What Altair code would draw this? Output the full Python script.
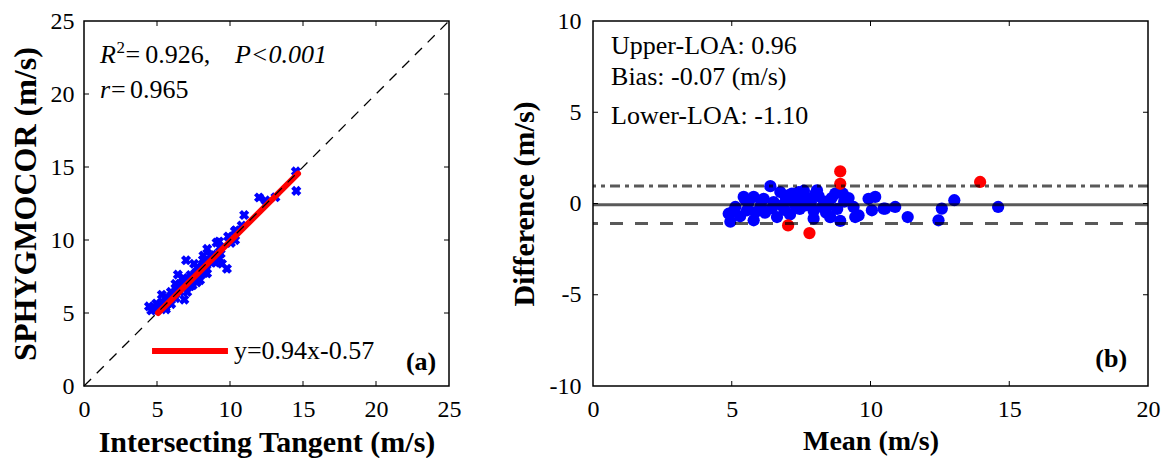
import altair as alt
import pandas as pd

# ---------------- data ----------------
# Panel (a): Intersecting Tangent vs SPHYGMOCOR (blue x markers)
tangent = [4.61, 4.45, 5.04, 4.83, 5.61, 5.59, 5.37, 5.97, 5.62, 5.33, 6.28, 6.00, 6.87, 6.55,
           6.26, 7.07, 6.76, 7.10, 7.28, 7.44, 7.24, 7.45, 7.73, 7.76, 7.60, 7.88, 7.54, 7.75,
           8.43, 8.33, 8.16, 8.40, 8.44, 8.75, 9.00, 8.65, 8.44, 9.10, 9.36, 9.30, 9.08, 9.25,
           10.06, 9.87, 10.35, 10.33, 10.39, 10.80, 10.97, 11.99, 12.43, 13.11, 14.51, 5.95,
           6.73, 6.80, 7.30, 7.88, 8.25, 8.15, 4.95, 6.33, 7.95, 8.18, 9.28, 5.63, 7.25,
           9.79, 9.45, 6.43, 6.99, 14.54]
sphygmocor = [5.17, 5.45, 5.23, 5.28, 5.25, 5.39, 5.74, 5.61, 6.09, 6.25, 6.02, 6.10, 5.92, 6.47,
              7.00, 6.44, 6.86, 6.80, 6.83, 6.90, 7.34, 7.25, 7.10, 7.31, 7.70, 7.63, 8.37, 8.15,
              7.71, 7.93, 8.35, 8.30, 8.54, 8.45, 8.46, 8.95, 9.39, 9.00, 9.06, 9.49, 9.82, 9.90,
              9.80, 10.24, 9.99, 10.61, 10.67, 10.99, 11.71, 12.91, 12.71, 12.93, 14.70, 6.45,
              7.08, 7.40, 7.60, 7.83, 7.75, 8.65, 5.65, 6.58, 7.25, 8.93, 8.73, 5.58, 7.15,
              8.03, 8.37, 7.63, 8.61, 13.36]
fit_x = [5.07, 14.66]
fit_y = [5.00, 14.54]
identity_v = [0, 25]
legend_x = [4.66, 9.86]
legend_y = [2.4, 2.4]
ticks_a = [5, 10, 15, 20]

# Panel (b): Bland-Altman
mean_blue = [4.89, 4.95, 5.13, 5.05, 5.43, 5.49, 5.55, 5.79, 5.85, 5.79, 6.15, 6.05, 6.39, 6.51,
             6.63, 6.75, 6.81, 6.95, 7.05, 7.17, 7.29, 7.35, 7.41, 7.53, 7.65, 7.75, 7.95, 7.95,
             8.07, 8.13, 8.25, 8.35, 8.49, 8.60, 8.73, 8.80, 8.91, 9.05, 9.21, 9.39, 9.45, 9.57,
             9.93, 10.05, 10.17, 10.47, 10.53, 10.89, 11.34, 12.45, 12.57, 13.02, 14.60, 6.20,
             6.90, 7.10, 7.45, 7.85, 8.00, 8.40, 5.30, 6.45, 7.60, 8.55, 9.00, 5.60, 7.20]
diff_blue = [-0.56, -1.00, -0.19, -0.45, 0.36, 0.20, -0.37, 0.36, -0.47, -0.92, 0.26, -0.10, 0.95, 0.08,
             -0.74, 0.63, -0.10, 0.30, 0.45, 0.54, -0.10, 0.20, 0.63, 0.45, -0.10, 0.25, -0.83, -0.40,
             0.72, 0.40, -0.19, 0.10, -0.10, 0.30, 0.54, -0.30, -0.95, 0.10, 0.30, -0.19, -0.74, -0.65,
             0.26, -0.37, 0.36, -0.28, -0.28, -0.19, -0.74, -0.92, -0.28, 0.18, -0.19, -0.50,
             -0.35, -0.60, -0.30, 0.05, 0.50, -0.50, -0.70, -0.25, 0.70, -0.75, 0.55, 0.05, 0.10]
mean_red = [8.91, 8.91, 7.03, 7.80, 13.95]
diff_red = [1.76, 1.08, -1.20, -1.62, 1.18]
loa_values = [0.96, -0.07, -1.10]
ticks_bx = [5, 10, 15]
ticks_by = [-5, 0, 5]

FONT = "Liberation Serif"
W1, H = 365, 365
W2 = 555
TL = 5  # inner tick length (px)


def inner_ticks(xvals, yvals, xs, ys, ax, ay, w, h):
    dx = pd.DataFrame({"v": xvals})
    dy = pd.DataFrame({"v": yvals})
    st = dict(color="black", strokeWidth=1)
    return [
        alt.Chart(dx).mark_rule(**st).encode(x=alt.X("v:Q", scale=xs, axis=ax),
                                             y=alt.value(h), y2=alt.value(h - TL)),
        alt.Chart(dx).mark_rule(**st).encode(x=alt.X("v:Q", scale=xs, axis=ax),
                                             y=alt.value(0), y2=alt.value(TL)),
        alt.Chart(dy).mark_rule(**st).encode(y=alt.Y("v:Q", scale=ys, axis=ay),
                                             x=alt.value(0), x2=alt.value(TL)),
        alt.Chart(dy).mark_rule(**st).encode(y=alt.Y("v:Q", scale=ys, axis=ay),
                                             x=alt.value(w), x2=alt.value(w - TL)),
    ]


def txt(df, x, y, xs, ys, ax, ay, **kw):
    base = dict(font=FONT, fontSize=26, color="black", align="left", baseline="alphabetic")
    base.update(kw)
    return alt.Chart(df).mark_text(**base).encode(
        x=alt.X(f"{x}:Q", scale=xs, axis=ax), y=alt.Y(f"{y}:Q", scale=ys, axis=ay),
        text="label:N")


LEXPR = "'' + datum.value"

# ---------------- panel (a) ----------------
xs1 = alt.Scale(domain=[0, 25], nice=False, zero=False)
ys1 = alt.Scale(domain=[0, 25], nice=False, zero=False)
ax1 = alt.Axis(values=[0, 5, 10, 15, 20, 25], title="Intersecting Tangent (m/s)", labelExpr=LEXPR,
               labelPadding=11, titlePadding=6, titleFontSize=30)
ay1 = alt.Axis(values=[0, 5, 10, 15, 20, 25], title="SPHYGMOCOR (m/s)", labelExpr=LEXPR,
               labelPadding=10, titlePadding=8, titleFontSize=32)

df_sc = pd.DataFrame({"t": tangent, "s": sphygmocor})
scatter = alt.Chart(df_sc).mark_point(shape="cross", angle=45, filled=True, color="#0000ff",
                                      size=105, opacity=1).encode(
    x=alt.X("t:Q", scale=xs1, axis=ax1),
    y=alt.Y("s:Q", scale=ys1, axis=ay1),
)
fit = alt.Chart(pd.DataFrame({"t": fit_x, "s": fit_y})).mark_line(
    color="#ff0000", strokeWidth=6, strokeCap="round").encode(
    x=alt.X("t:Q", scale=xs1, axis=ax1), y=alt.Y("s:Q", scale=ys1, axis=ay1))
ident = alt.Chart(pd.DataFrame({"t": identity_v, "s": identity_v})).mark_line(
    color="black", strokeWidth=1.3, strokeDash=[10, 8]).encode(
    x=alt.X("t:Q", scale=xs1, axis=ax1), y=alt.Y("s:Q", scale=ys1, axis=ay1))
leg_line = alt.Chart(pd.DataFrame({"t": legend_x, "s": legend_y})).mark_line(
    color="#ff0000", strokeWidth=6).encode(
    x=alt.X("t:Q", scale=xs1, axis=ax1), y=alt.Y("s:Q", scale=ys1, axis=ay1))

ann_norm = pd.DataFrame({"t": [2.85, 4.2, 1.85, 3.15, 10.27],
                         "s": [22.13, 22.13, 19.72, 19.72, 1.86],
                         "label": ["=", "0.926,", "=", "0.965", "y=0.94x-0.57"]})
ann_ital = pd.DataFrame({"t": [1.10, 10.34, 1.10], "s": [22.13, 22.13, 19.72],
                         "label": ["R", "P<0.001", "r"]})
ann_sup = pd.DataFrame({"t": [2.22], "s": [22.13], "label": ["2"]})
ann_a = pd.DataFrame({"t": [22.05], "s": [1.12], "label": ["(a)"]})

left = alt.layer(
    scatter, fit, ident, leg_line,
    *inner_ticks(ticks_a, ticks_a, xs1, ys1, ax1, ay1, W1, H),
    txt(ann_norm, "t", "s", xs1, ys1, ax1, ay1),
    txt(ann_ital, "t", "s", xs1, ys1, ax1, ay1, fontStyle="italic"),
    txt(ann_sup, "t", "s", xs1, ys1, ax1, ay1, fontSize=17, dy=-10),
    txt(ann_a, "t", "s", xs1, ys1, ax1, ay1, fontWeight="bold"),
).properties(width=W1, height=H)

# ---------------- panel (b) ----------------
xs2 = alt.Scale(domain=[0, 20], nice=False, zero=False)
ys2 = alt.Scale(domain=[-10, 10], nice=False, zero=False)
ax2 = alt.Axis(values=[0, 5, 10, 15, 20], title="Mean (m/s)", labelExpr=LEXPR,
               labelPadding=11, titlePadding=6, titleFontSize=28)
ay2 = alt.Axis(values=[-10, -5, 0, 5, 10], title="Difference (m/s)", labelExpr=LEXPR,
               labelPadding=12, titlePadding=10, titleFontSize=30)

blue = alt.Chart(pd.DataFrame({"m": mean_blue, "d": diff_blue})).mark_circle(
    color="#0000ff", size=150, opacity=1).encode(
    x=alt.X("m:Q", scale=xs2, axis=ax2), y=alt.Y("d:Q", scale=ys2, axis=ay2))
red = alt.Chart(pd.DataFrame({"m": mean_red, "d": diff_red})).mark_circle(
    color="#ff0000", size=150, opacity=1).encode(
    x=alt.X("m:Q", scale=xs2, axis=ax2), y=alt.Y("d:Q", scale=ys2, axis=ay2))

dashes = [[10, 5, 4, 5], [], [13, 12]]
loa_layers = []
for v, dsh in zip(loa_values, dashes):
    kw = dict(color="black", opacity=0.65, strokeWidth=3)
    if dsh:
        kw["strokeDash"] = dsh
    loa_layers.append(alt.Chart(pd.DataFrame({"d": [v]})).mark_rule(**kw).encode(
        y=alt.Y("d:Q", scale=ys2, axis=ay2)))

ann_b = pd.DataFrame({"m": [0.65, 0.65, 0.65], "d": [8.21, 6.48, 4.37],
                      "label": ["Upper-LOA: 0.96", "Bias: -0.07 (m/s)", "Lower-LOA: -1.10"]})
ann_bb = pd.DataFrame({"m": [18.1], "d": [-8.96], "label": ["(b)"]})

right = alt.layer(
    blue, red, *loa_layers,
    *inner_ticks(ticks_bx, ticks_by, xs2, ys2, ax2, ay2, W2, H),
    txt(ann_b, "m", "d", xs2, ys2, ax2, ay2),
    txt(ann_bb, "m", "d", xs2, ys2, ax2, ay2, fontWeight="bold"),
).properties(width=W2, height=H)

chart = alt.hconcat(left, right, spacing=46).properties(
    padding={"left": 0, "top": 0, "right": 0, "bottom": 0}
).configure_view(stroke="black", strokeWidth=1.5).configure_axis(
    labelFont=FONT, titleFont=FONT, labelFontSize=24, labelColor="black",
    titleColor="black", titleFontWeight="bold", domain=False, ticks=False, tickSize=0,
    grid=False, labelFlush=False
)

chart.save("out.html", embed_options={"renderer": "svg", "actions": False})
